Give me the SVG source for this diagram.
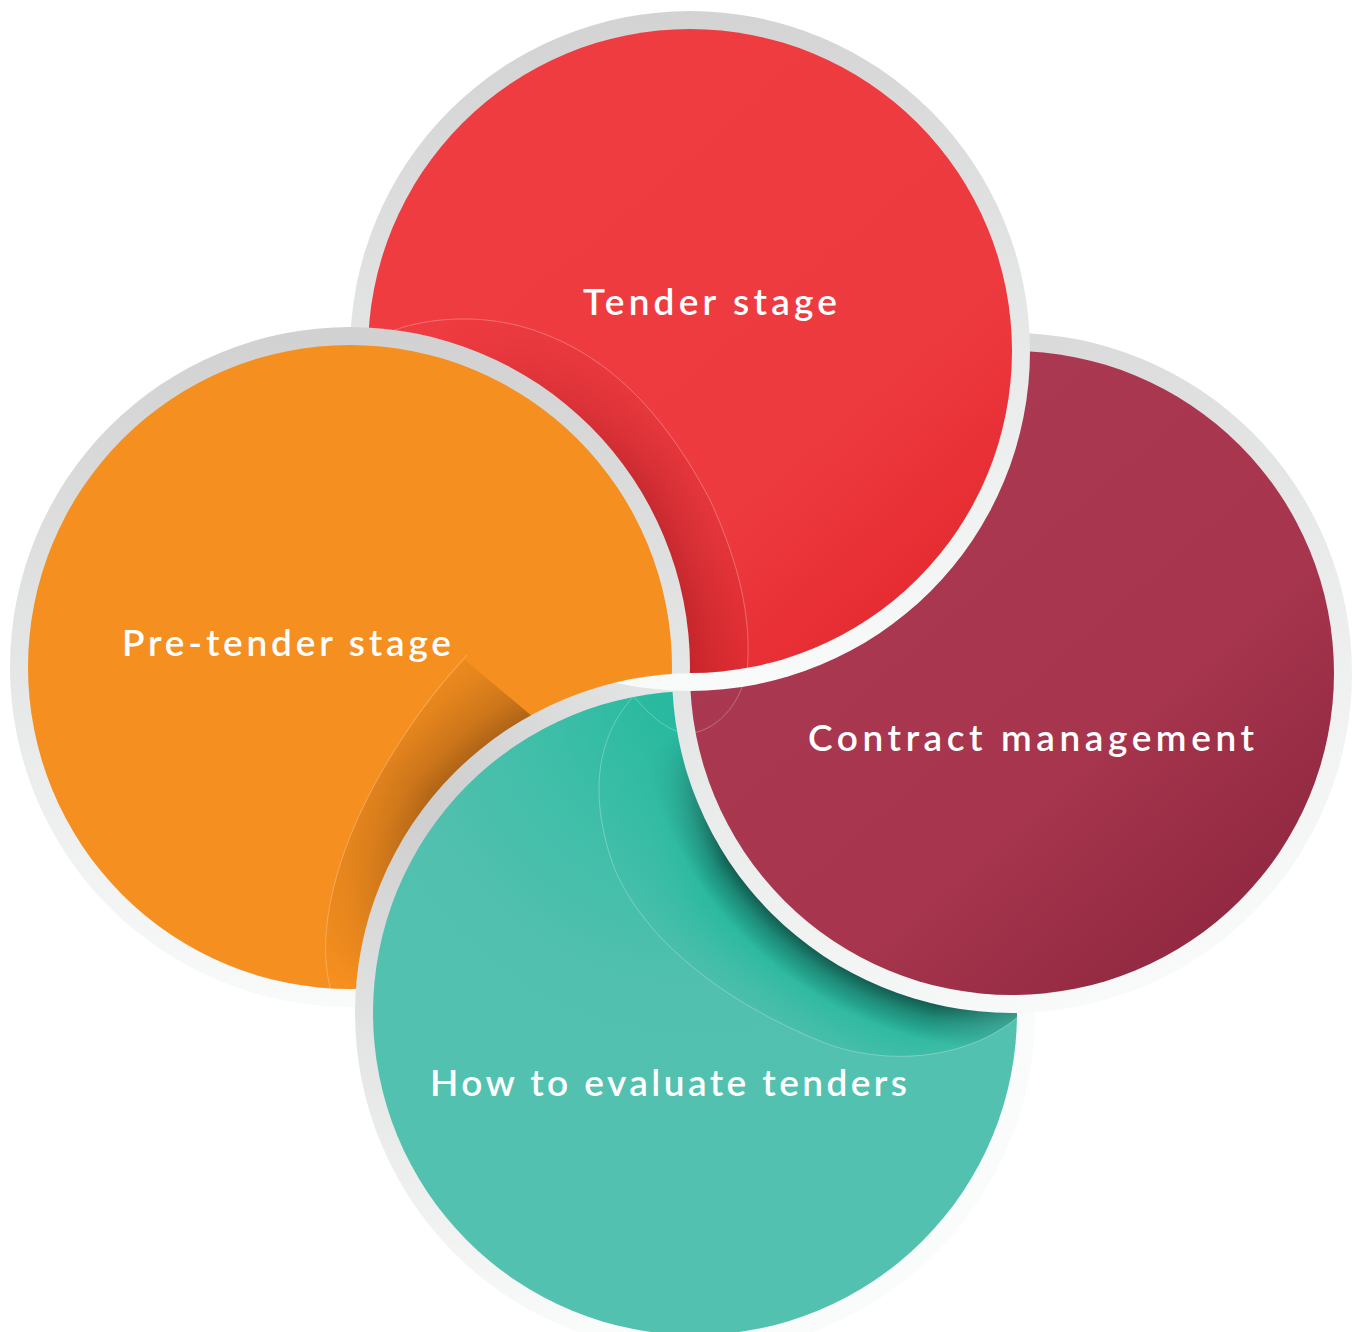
<svg xmlns="http://www.w3.org/2000/svg" xmlns:xlink="http://www.w3.org/1999/xlink" width="1355" height="1332" viewBox="0 0 1355 1332">
  <style>
    .label { font-family: Lato, "Liberation Sans", sans-serif; font-size: 37px; font-weight: 600; fill: #ffffff; }
    .trace { fill: none; stroke: #ffffff; stroke-opacity: 0.35; stroke-width: 0.8; }
  </style>
  <defs>
    <!-- light grey rims -->
    <linearGradient id="rim-red" x1="0.45" y1="0" x2="0.55" y2="1">
      <stop offset="0" stop-color="#d3d3d3"/>
      <stop offset="0.5" stop-color="#e6e7e7"/>
      <stop offset="1" stop-color="#f9fafa"/>
    </linearGradient>
    <linearGradient id="rim-orange" x1="0.5" y1="0" x2="0.5" y2="1">
      <stop offset="0" stop-color="#d1d1d1"/>
      <stop offset="0.5" stop-color="#e5e6e6"/>
      <stop offset="1" stop-color="#f9fafa"/>
    </linearGradient>
    <linearGradient id="rim-maroon" x1="0.3" y1="0" x2="0.7" y2="1">
      <stop offset="0" stop-color="#d6d6d6"/>
      <stop offset="0.5" stop-color="#e9eaea"/>
      <stop offset="1" stop-color="#fafbfb"/>
    </linearGradient>
    <radialGradient id="rim-teal" gradientUnits="userSpaceOnUse" cx="420" cy="800" r="560">
      <stop offset="0" stop-color="#cdcdcd"/>
      <stop offset="0.5" stop-color="#e6e7e7"/>
      <stop offset="1" stop-color="#fafbfb"/>
    </radialGradient>

    <!-- disc fills -->
    <linearGradient id="fill-red" x1="0.3" y1="0.2" x2="0.95" y2="0.95">
      <stop offset="0" stop-color="#ef3c41"/>
      <stop offset="0.6" stop-color="#ed3a3f"/>
      <stop offset="1" stop-color="#e2252b"/>
    </linearGradient>
    <linearGradient id="fill-maroon" x1="0.3" y1="0.2" x2="1" y2="1">
      <stop offset="0" stop-color="#aa3850"/>
      <stop offset="0.5" stop-color="#a6354d"/>
      <stop offset="1" stop-color="#86213b"/>
    </linearGradient>
    <radialGradient id="fill-teal" gradientUnits="userSpaceOnUse" cx="695" cy="700" r="420">
      <stop offset="0" stop-color="#22b89d"/>
      <stop offset="0.35" stop-color="#3dbea8"/>
      <stop offset="0.7" stop-color="#52c0ae"/>
      <stop offset="1" stop-color="#53c1af"/>
    </radialGradient>

    <!-- cast shadows, centred on the disc that casts them -->
    <radialGradient id="shade-red" gradientUnits="userSpaceOnUse" cx="350" cy="667" r="460">
      <stop offset="0.739" stop-color="#8a0f16" stop-opacity="0.38"/>
      <stop offset="0.78" stop-color="#8a0f16" stop-opacity="0.25"/>
      <stop offset="0.85" stop-color="#8a0f16" stop-opacity="0.1"/>
      <stop offset="0.95" stop-color="#8a0f16" stop-opacity="0"/>
    </radialGradient>
    <radialGradient id="shade-orange" gradientUnits="userSpaceOnUse" cx="695" cy="1013" r="460">
      <stop offset="0.739" stop-color="#6b3a10" stop-opacity="0.5"/>
      <stop offset="0.79" stop-color="#6b3a10" stop-opacity="0.3"/>
      <stop offset="0.87" stop-color="#6b3a10" stop-opacity="0.12"/>
      <stop offset="0.97" stop-color="#6b3a10" stop-opacity="0"/>
    </radialGradient>
    <radialGradient id="shade-teal-glow" gradientUnits="userSpaceOnUse" cx="1012" cy="673" r="460">
      <stop offset="0.739" stop-color="#1eb69b" stop-opacity="0.9"/>
      <stop offset="0.8" stop-color="#1eb69b" stop-opacity="0.75"/>
      <stop offset="0.88" stop-color="#1eb69b" stop-opacity="0.3"/>
      <stop offset="0.96" stop-color="#1eb69b" stop-opacity="0"/>
    </radialGradient>
    <radialGradient id="shade-teal-dark" gradientUnits="userSpaceOnUse" cx="1012" cy="673" r="460">
      <stop offset="0.739" stop-color="#0e4038" stop-opacity="0.75"/>
      <stop offset="0.77" stop-color="#0e4038" stop-opacity="0.38"/>
      <stop offset="0.82" stop-color="#0e4038" stop-opacity="0"/>
    </radialGradient>

    <!-- fades along the length of each shadow -->
    <linearGradient id="fade-red-g" gradientUnits="userSpaceOnUse" x1="440" y1="330" x2="640" y2="500">
      <stop offset="0" stop-color="#000"/>
      <stop offset="1" stop-color="#fff"/>
    </linearGradient>
    <mask id="fade-red" maskUnits="userSpaceOnUse" x="0" y="0" width="1355" height="1332">
      <rect width="1355" height="1332" fill="url(#fade-red-g)"/>
    </mask>
    <linearGradient id="fade-orange-g" gradientUnits="userSpaceOnUse" x1="480" y1="690" x2="340" y2="980">
      <stop offset="0" stop-color="#fff"/>
      <stop offset="0.35" stop-color="#fff"/>
      <stop offset="1" stop-color="#000"/>
    </linearGradient>
    <mask id="fade-orange" maskUnits="userSpaceOnUse" x="0" y="0" width="1355" height="1332">
      <rect width="1355" height="1332" fill="url(#fade-orange-g)"/>
    </mask>
    <radialGradient id="fade-teal-g" gradientUnits="userSpaceOnUse" cx="820" cy="950" r="260">
      <stop offset="0" stop-color="#fff"/>
      <stop offset="0.5" stop-color="#fff"/>
      <stop offset="1" stop-color="#000"/>
    </radialGradient>
    <mask id="fade-teal" maskUnits="userSpaceOnUse" x="0" y="0" width="1355" height="1332">
      <rect width="1355" height="1332" fill="url(#fade-teal-g)"/>
    </mask>

    <!-- disc clips -->
    <clipPath id="disc-red"><circle cx="690" cy="351" r="322"/></clipPath>
    <clipPath id="disc-orange"><circle cx="350" cy="667" r="322"/></clipPath>
    <clipPath id="disc-maroon"><circle cx="1012" cy="673" r="322"/></clipPath>
    <clipPath id="disc-teal"><circle cx="695" cy="1013" r="322"/></clipPath>

    <!-- the orange disc sits above the red one, but below the teal one;
         the window is a little wider than the red rim so no seam shows -->
    <mask id="orange-over-red" maskUnits="userSpaceOnUse" x="0" y="0" width="1355" height="1332">
      <circle cx="690" cy="351" r="343" fill="#fff"/>
      <circle cx="695" cy="1013" r="340" fill="#000"/>
    </mask>
  </defs>

  <rect width="1355" height="1332" fill="#ffffff"/>

  <!-- Pre-tender stage -->
  <g id="node-pre-tender">
    <circle cx="350" cy="667" r="340" fill="url(#rim-orange)"/>
    <circle cx="350" cy="667" r="322" fill="#f58f1f"/>
    <g clip-path="url(#disc-orange)">
      <path d="M 465 660 C 420 705 370 780 345 850 C 322 915 322 960 332 995 L 332 1010 L 620 1010 L 620 790 Z" fill="url(#shade-orange)" mask="url(#fade-orange)"/>
      <path class="trace" d="M 467 655 C 420 705 370 780 345 850 C 322 915 322 960 332 995"/>
    </g>
    <text class="label" x="122" y="656" textLength="329" lengthAdjust="spacing">Pre-tender stage</text>
  </g>

  <!-- How to evaluate tenders -->
  <g id="node-evaluate">
    <circle cx="695" cy="1013" r="340" fill="url(#rim-teal)"/>
    <circle cx="695" cy="1013" r="322" fill="url(#fill-teal)"/>
    <g clip-path="url(#disc-teal)">
      <g mask="url(#fade-teal)">
        <path d="M 636 694 C 600 730 585 790 615 870 C 650 950 740 1010 830 1045 C 900 1068 975 1055 1020 1015 L 1100 1000 L 1100 650 L 680 650 Z" fill="url(#shade-teal-glow)"/>
        <path d="M 636 694 C 600 730 585 790 615 870 C 650 950 740 1010 830 1045 C 900 1068 975 1055 1020 1015 L 1100 1000 L 1100 650 L 680 650 Z" fill="url(#shade-teal-dark)"/>
      </g>
      <path class="trace" d="M 636 694 C 600 730 585 790 615 870 C 650 950 740 1010 830 1045 C 900 1068 975 1055 1020 1015"/>
      <path class="trace" d="M 748 660 C 745 700 720 728 693 733 C 670 735 650 716 630 692"/>
    </g>
    <text class="label" x="430" y="1096" textLength="477" lengthAdjust="spacing">How to evaluate tenders</text>
  </g>

  <!-- Contract management -->
  <g id="node-contract">
    <circle cx="1012" cy="673" r="340" fill="url(#rim-maroon)"/>
    <circle cx="1012" cy="673" r="322" fill="url(#fill-maroon)"/>
    <g clip-path="url(#disc-maroon)">
      <path class="trace" d="M 748 660 C 745 700 720 728 693 733 C 670 735 650 716 630 692"/>
    </g>
    <text class="label" x="808" y="751" textLength="446" lengthAdjust="spacing">Contract management</text>
  </g>

  <!-- Tender stage -->
  <g id="node-tender">
    <circle cx="690" cy="351" r="340" fill="url(#rim-red)"/>
    <circle cx="690" cy="351" r="322" fill="url(#fill-red)"/>
    <g clip-path="url(#disc-red)">
      <path d="M 392 331 C 420 320 470 313 520 326 C 600 348 660 405 710 500 C 740 565 752 620 747 672 L 747 720 L 300 720 L 300 331 Z" fill="url(#shade-red)" mask="url(#fade-red)"/>
      <path class="trace" d="M 392 331 C 420 320 470 313 520 326 C 600 348 660 405 710 500 C 740 565 752 620 747 672"/>
    </g>
    <text class="label" x="583" y="315" textLength="254" lengthAdjust="spacing">Tender stage</text>
  </g>

  <!-- pre-tender disc repeated where it overlaps the tender disc -->
  <use xlink:href="#node-pre-tender" mask="url(#orange-over-red)"/>

  <g id="connectors"/>
</svg>
